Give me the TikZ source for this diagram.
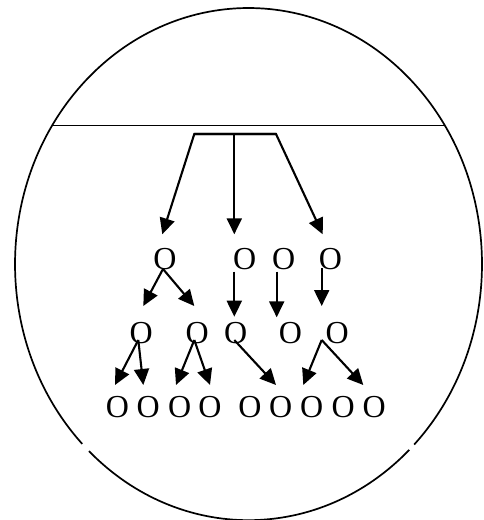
\documentclass[tikz,border=0pt]{standalone}
\usepackage{fontspec}
\setmainfont{Liberation Serif}
\usepackage{tikz}
\usetikzlibrary{arrows.meta,calc}

\begin{document}
\begin{tikzpicture}[x=1pt, y=-1pt,
  letter/.style={inner sep=0pt, font=\fontsize{32}{38}\selectfont},
  arr/.style={-{Triangle[length=16pt,width=15pt]}, line width=2.1pt}]

\useasboundingbox (0,0) rectangle (483,520);
\clip (0,0) rectangle (483,520);

% --- outline (ellipse with two small breaks) and chord ---
\coordinate (ctr) at (248.5,264.1);
\draw[line width=1.7pt] (ctr) ++(226.9:233.5pt and 256.1pt)
  arc[start angle=226.9, end angle=313.5, x radius=233.5pt, y radius=256.1pt];
\draw[line width=1.7pt] (ctr) ++(315.2:233.5pt and 256.1pt)
  arc[start angle=315.2, end angle=584.6, x radius=233.5pt, y radius=256.1pt];
\draw[line width=1.5pt] (52.5,125.3) -- (444.5,125.3);

% --- rows of O ---
\foreach \n/\x in {a/165, b/244.7, c/283.8, d/330.5}
  \node[letter] (r1\n) at (\x,259) {O};
\foreach \n/\x in {a/141.3, b/197.2, c/235.8, d/290.5, e/337.2}
  \node[letter] (r2\n) at (\x,333.5) {O};
\foreach \n/\x in {a/117.5, b/148.3, c/179.7, d/210, e/250, f/280.8, g/311.8, h/343.3, i/374.2}
  \node[letter] (r3\n) at (\x,407.5) {O};

% --- bracket under the chord ---
\coordinate (bl) at (194.3,134);
\coordinate (bm) at (234.3,134);
\coordinate (br) at (276,134);
\draw[arr] (br) -- (bl) -- ($(r1a)+(-2.7,-24.7)$);
\draw[arr] (bl) -- (br) -- ($(r1d)+(-7.8,-24.7)$);
\draw[arr] (bm) -- ($(r1b)+(-10.4,-24.7)$);

% --- first row to second row ---
\draw[arr] ($(r1a)+(-2,10)$) -- ($(r2a)+(2,-27.5)$);
\draw[arr] ($(r1a)+(-2,10)$) -- ($(r2b)+(-2.9,-27.5)$);
\draw[arr] ($(r1b)+(-10.4,12.7)$) -- ($(r2c)+(-1.5,-16.8)$);
\draw[arr] ($(r1c)+(-7.1,12.7)$) -- ($(r2d)+(-13.8,-16.2)$);
\draw[arr] ($(r1d)+(-8.8,9.3)$) -- ($(r2e)+(-15.5,-27.5)$);

% --- second row to third row ---
\draw[arr] ($(r2a)+(-3,6.5)$) -- ($(r3a)+(-2.5,-22.5)$);
\draw[arr] ($(r2a)+(-3,6.5)$) -- ($(r3b)+(-5,-22.5)$);
\draw[arr] ($(r2b)+(-2.9,6.5)$) -- ($(r3c)+(-3.7,-22.5)$);
\draw[arr] ($(r2b)+(-2.9,6.5)$) -- ($(r3d)+(0,-22.5)$);
\draw[arr] ($(r2c)+(-1.5,6.5)$) -- ($(r3f)+(-4.8,-22.5)$);
\draw[arr] ($(r2e)+(-15.5,6.5)$) -- ($(r3g)+(-8.5,-22.5)$);
\draw[arr] ($(r2e)+(-15.5,6.5)$) -- ($(r3i)+(-10.9,-22.5)$);

\end{tikzpicture}
\end{document}
